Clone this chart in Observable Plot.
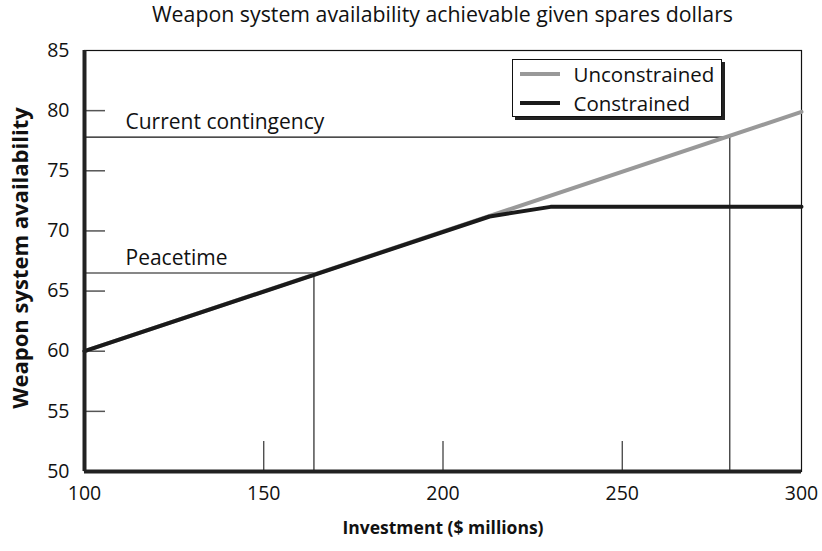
<!DOCTYPE html>
<html>
<head>
<meta charset="utf-8">
<script src="https://cdn.jsdelivr.net/npm/d3@7"></script>
<script src="https://cdn.jsdelivr.net/npm/@observablehq/plot@0.6"></script>
<style>
  html, body { margin: 0; padding: 0; background: #fff; }
  #wrap { position: relative; width: 822px; height: 551px; font-family: "Open Sans", sans-serif; color: #111; }
  #title { height: 36px; box-sizing: border-box; padding-left: 84px; padding-right: 21px; text-align: center; font-size: 21.3px; line-height: 28px; white-space: nowrap; }
  #legend { position: absolute; left: 512px; top: 59px; width: 210px; height: 58px; border: 1.5px solid #111; background: #fff; box-shadow: 3px 3px 0 #222; box-sizing: border-box; }
  .row { position: absolute; left: 0; height: 26px; font-size: 20.5px; line-height: 26px; }
  .sw { position: absolute; left: 6.5px; width: 40px; height: 4px; }
  .lbl { position: absolute; left: 60.5px; white-space: nowrap; }
</style>
</head>
<body>
<div id="wrap">
  <div id="title"></div>
  <div id="chart"></div>
  <div id="legend"></div>
</div>
<script>
const titleText = "Weapon system availability achievable given spares dollars";
const xLabel = "Investment ($ millions)";
const yLabel = "Weapon system availability";
const xTicks = [100, 150, 200, 250, 300];
const yTicks = [50, 55, 60, 65, 70, 75, 80, 85];
const innerXTicks = [150, 200, 250];
const innerYTicks = [55, 60, 65, 70, 75, 80];
const seriesNames = ["Unconstrained", "Constrained"];
const seriesColors = ["#999999", "#1a1a1a"];
const unconstrainedX = [100, 300];
const unconstrainedY = [60, 79.9];
const constrainedX = [100, 213, 230, 300];
const constrainedY = [60, 71.2, 72, 72];
const refNames = ["Current contingency", "Peacetime"];
const refX = [280, 164];
const refY = [77.8, 66.5];

document.getElementById("title").textContent = titleText;

const unconstrained = unconstrainedX.map((x, i) => ({x, y: unconstrainedY[i]}));
const constrained = constrainedX.map((x, i) => ({x, y: constrainedY[i]}));
const refs = refNames.map((name, i) => ({name, x: refX[i], y: refY[i]}));

const W = 822, H = 515, mL = 84, mR = 21, mT = 14, mB = 80;
const plotW = W - mL - mR, plotH = H - mT - mB;

const chart = Plot.plot({
  width: W, height: H,
  marginLeft: mL, marginRight: mR, marginTop: mT, marginBottom: mB,
  style: {fontFamily: "'Open Sans', sans-serif", fontSize: "18px", color: "#111", background: "#fff", overflow: "visible"},
  x: {domain: [100, 300], ticks: xTicks},
  y: {domain: [50, 85], ticks: yTicks},
  marks: [
    Plot.frame({stroke: "#111", strokeWidth: 1.2}),
    Plot.ruleY(innerYTicks, {stroke: "#555", strokeWidth: 1.5, insetRight: plotW - 21}),
    Plot.ruleX(innerXTicks, {stroke: "#333", strokeWidth: 1.2, insetTop: plotH - 30}),
    Plot.ruleY(refs, {y: "y", x1: 100, x2: "x", stroke: "#111", strokeWidth: 1.1}),
    Plot.ruleX(refs, {x: "x", y1: 50, y2: "y", stroke: "#111", strokeWidth: 1.1}),
    Plot.text(refs, {x: 100, y: "y", text: "name", textAnchor: "start", dx: 41, dy: -15, fontSize: 21, fill: "#111"}),
    Plot.line(unconstrained, {x: "x", y: "y", stroke: seriesColors[0], strokeWidth: 4}),
    Plot.line(constrained, {x: "x", y: "y", stroke: seriesColors[1], strokeWidth: 4}),
    Plot.ruleX([100], {stroke: "#222", strokeWidth: 4}),
    Plot.ruleY([50], {stroke: "#222", strokeWidth: 4}),
    Plot.axisX({ticks: xTicks, tickSize: 0, tickPadding: 15, label: null, fontSize: 19.5, fill: "#111"}),
    Plot.axisY({ticks: yTicks, tickSize: 0, tickPadding: 15, label: null, fontSize: 19.5, fill: "#111"}),
    Plot.text([xLabel], {frameAnchor: "bottom", dy: 62, fontWeight: "bold", fontSize: 17.5, fill: "#111"}),
    Plot.text([yLabel], {frameAnchor: "left", textAnchor: "middle", dx: -64, dy: -3, rotate: -90, fontWeight: "bold", fontSize: 22, fill: "#111"})
  ]
});
document.getElementById("chart").appendChild(chart);

const legend = document.getElementById("legend");
seriesNames.forEach((name, i) => {
  const row = document.createElement("div");
  row.className = "row";
  row.style.top = (i === 0 ? 0.5 : 29.5) + "px";
  row.style.width = "100%";
  const sw = document.createElement("div");
  sw.className = "sw";
  sw.style.background = seriesColors[i];
  sw.style.top = "11px";
  const lbl = document.createElement("div");
  lbl.className = "lbl";
  lbl.textContent = name;
  row.appendChild(sw);
  row.appendChild(lbl);
  legend.appendChild(row);
});
</script>
</body>
</html>
